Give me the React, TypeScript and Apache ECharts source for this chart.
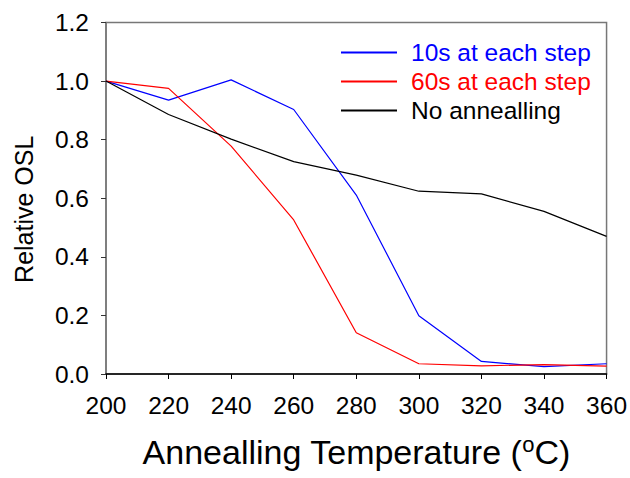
import React, { useEffect, useRef } from "react";
import * as echarts from "echarts";

const temperatures = [200, 220, 240, 260, 280, 300, 320, 340, 360];
const tenSeconds = [1.0, 0.935, 1.004, 0.903, 0.611, 0.199, 0.043, 0.025, 0.035];
const sixtySeconds = [1.0, 0.975, 0.778, 0.526, 0.141, 0.035, 0.028, 0.032, 0.027];
const noAnnealing = [1.0, 0.886, 0.802, 0.725, 0.679, 0.624, 0.615, 0.555, 0.47];
const seriesNames = ["10s at each step", "60s at each step", "No annealling"];
const seriesColors = ["#0000ff", "#ff0000", "#000000"];

const FONT = "'Liberation Sans', Arial, sans-serif";

export default function App() {
  const ref = useRef<HTMLDivElement>(null);
  useEffect(() => {
    if (!ref.current) return;
    const chart = echarts.init(ref.current, undefined, { renderer: "svg" });
    const datasets = [tenSeconds, sixtySeconds, noAnnealing];
    chart.setOption({
      animation: false,
      backgroundColor: "#ffffff",
      textStyle: { fontFamily: FONT },
      grid: {
        left: 106,
        top: 22.5,
        right: 22.5,
        bottom: 104,
        show: true,
        borderColor: "#777777",
        borderWidth: 1.5,
      },
      legend: {
        orient: "vertical",
        left: 340,
        top: 40,
        padding: 0,
        itemWidth: 56,
        itemHeight: 14,
        itemGap: 4,
        itemStyle: { opacity: 0 },
        data: seriesNames.map((n, i) => ({
          name: n,
          textStyle: { color: seriesColors[i] },
        })),
        textStyle: { fontSize: 24.5, fontFamily: FONT, padding: [0, 0, 0, 9] },
      },
      xAxis: {
        type: "value",
        min: 200,
        max: 360,
        interval: 20,
        name: "Annealling Temperature ({sup|o}C)",
        nameLocation: "middle",
        nameGap: 59,
        nameTextStyle: {
          fontSize: 34,
          color: "#000",
          fontFamily: FONT,
          rich: {
            sup: { fontSize: 22, verticalAlign: "top", padding: [0, 0, 16, 0], fontFamily: FONT, color: "#000" },
          },
        },
        axisLine: { lineStyle: { color: "#000", width: 1.5 } },
        axisTick: { inside: false, length: 5, lineStyle: { color: "#000" } },
        axisLabel: { fontSize: 24.5, color: "#000", margin: 19, fontFamily: FONT },
        splitLine: { show: false },
      },
      yAxis: {
        type: "value",
        min: 0,
        max: 1.2,
        interval: 0.2,
        name: "Relative OSL",
        nameLocation: "middle",
        nameGap: 70,
        nameTextStyle: { fontSize: 25, color: "#000", fontFamily: FONT, padding: [0, 22, 0, 0] },
        axisLine: { show: true, lineStyle: { color: "#777", width: 1.5 } },
        axisTick: { show: true, inside: false, length: 5, lineStyle: { color: "#333" } },
        axisLabel: {
          fontSize: 24.5,
          color: "#000",
          margin: 17,
          fontFamily: FONT,
          formatter: (v: number) => v.toFixed(1),
        },
        splitLine: { show: false },
      },
      series: datasets.map((d, i) => ({
        name: seriesNames[i],
        type: "line",
        symbol: "none",
        data: temperatures.map((t, j) => [t, d[j]]),
        lineStyle: { color: seriesColors[i], width: 1.2 },
        itemStyle: { color: seriesColors[i] },
      })),
    });
    return () => chart.dispose();
  }, []);
  return <div ref={ref} style={{ width: 630, height: 478, position: "absolute", left: 0, top: 0 }} />;
}
